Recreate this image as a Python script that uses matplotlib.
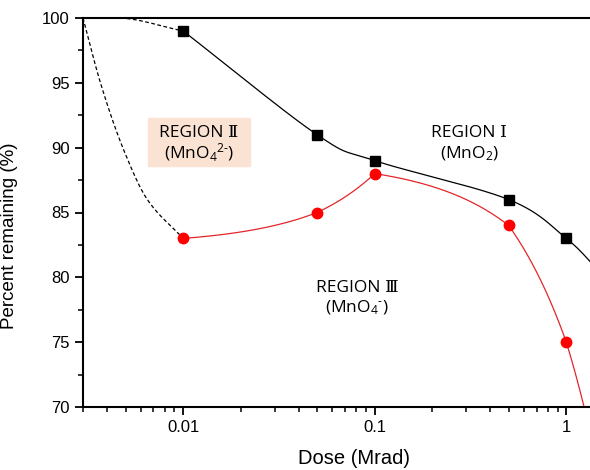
import numpy as np
import matplotlib.pyplot as plt
from matplotlib.ticker import FixedLocator, NullFormatter, MultipleLocator

# measured points
dose = [0.01, 0.05, 0.1, 0.5, 1.0]
region1 = [99, 91, 89, 86, 83]      # MnO2 boundary (black squares)
region3 = [83, 85, 88, 84, 75]      # MnO4- boundary (red circles)

# where the curves run off the frame
black_tail = (1.5, 80.4)
red_tail = (1.5, 64.5)

# dashed guides from the origin (0.003, 100)
guide_upper_x = [0.003, 0.0045, 0.01]
guide_upper_y = [100, 100, 99]
guide_lower_x = [0.003, 0.0037, 0.0049, 0.0065, 0.01]
guide_lower_y = [100, 95, 89.8, 86, 83]


def catmull(xs, ys, n=60):
    """Catmull-Rom through the points, in log-x space"""
    lx = np.log10(xs)
    ys = np.asarray(ys, float)
    px = np.concatenate([[2 * lx[0] - lx[1]], lx, [2 * lx[-1] - lx[-2]]])
    py = np.concatenate([[2 * ys[0] - ys[1]], ys, [2 * ys[-1] - ys[-2]]])
    outx, outy = [], []
    t = np.linspace(0, 1, n)
    for i in range(1, len(px) - 2):
        for p, out in ((px, outx), (py, outy)):
            p0, p1, p2, p3 = p[i - 1], p[i], p[i + 1], p[i + 2]
            out.append(0.5 * (2 * p1 + (-p0 + p2) * t
                              + (2 * p0 - 5 * p1 + 4 * p2 - p3) * t ** 2
                              + (-p0 + 3 * p1 - 3 * p2 + p3) * t ** 3))
    return 10 ** np.concatenate(outx), np.concatenate(outy)


def linear_dense(xs, ys, n=100):
    """Straight segments in linear dose, sampled densely for the log axis"""
    outx, outy = [], []
    for i in range(len(xs) - 1):
        t = np.linspace(0, 1, n)
        outx.append(xs[i] + t * (xs[i + 1] - xs[i]))
        outy.append(ys[i] + t * (ys[i + 1] - ys[i]))
    return np.concatenate(outx), np.concatenate(outy)


def pchip(xs, ys, n=80):
    """Monotone cubic through the points, in log-x space"""
    x = np.log10(xs)
    y = np.asarray(ys, float)
    h = np.diff(x)
    d = np.diff(y) / h
    m = np.zeros_like(y)
    m[0], m[-1] = d[0], d[-1]
    for k in range(1, len(y) - 1):
        if d[k - 1] * d[k] > 0:
            w1 = 2 * h[k] + h[k - 1]
            w2 = h[k] + 2 * h[k - 1]
            m[k] = (w1 + w2) / (w1 / d[k - 1] + w2 / d[k])
    outx, outy = [], []
    t = np.linspace(0, 1, n)
    for k in range(len(h)):
        h00 = 2 * t**3 - 3 * t**2 + 1
        h10 = t**3 - 2 * t**2 + t
        h01 = -2 * t**3 + 3 * t**2
        h11 = t**3 - t**2
        outx.append(x[k] + t * h[k])
        outy.append(h00 * y[k] + h10 * h[k] * m[k] + h01 * y[k + 1] + h11 * h[k] * m[k + 1])
    return 10 ** np.concatenate(outx), np.concatenate(outy)


plt.rcParams['font.family'] = ['Liberation Sans', 'DejaVu Sans']
plt.rcParams['mathtext.fontset'] = 'custom'
plt.rcParams['mathtext.rm'] = 'Open Sans'
plt.rcParams['mathtext.it'] = 'Open Sans'

fig = plt.figure(figsize=(5.9, 4.7), dpi=100)
ax = fig.add_axes([83 / 590, 63 / 470, 541 / 590, 389 / 470])

bx, by = catmull(dose + [black_tail[0]], region1 + [black_tail[1]])
rx, ry = linear_dense(dose + [red_tail[0]], region3 + [red_tail[1]])
ax.plot(bx, by, color='black', lw=0.9, zorder=2)
ax.plot(rx, ry, color='#e3262b', lw=0.9, zorder=2)

ux, uy = pchip(guide_upper_x, guide_upper_y)
lx, ly = pchip(guide_lower_x, guide_lower_y)
ax.plot(ux, uy, color='black', lw=0.9, ls=(0, (3, 2)), zorder=2)
ax.plot(lx, ly, color='black', lw=0.9, ls=(0, (3, 2)), zorder=2)

ax.plot(dose, region1, 's', color='black', ms=6.5, zorder=3, clip_on=False)
ax.plot(dose, region3, 'o', color='#ff0000', ms=7.5, zorder=3, clip_on=False)

ax.set_xscale('log')
ax.set_xlim(0.003, 2)
ax.set_ylim(70, 100)
ax.xaxis.set_major_locator(FixedLocator([0.01, 0.1, 1]))
ax.set_xticklabels(['0.01', '0.1', '1'])
ax.xaxis.set_minor_locator(FixedLocator(
    [k * 10.0 ** e for e in (-3, -2, -1, 0) for k in range(2, 10)]))
ax.xaxis.set_minor_formatter(NullFormatter())
ax.yaxis.set_major_locator(MultipleLocator(5))
ax.yaxis.set_minor_locator(MultipleLocator(2.5))

for s in ('left', 'bottom', 'top'):
    ax.spines[s].set_linewidth(1.5)
ax.spines['right'].set_visible(False)
ax.tick_params(which='major', direction='out', length=6, width=1.3, labelsize=12)
ax.tick_params(which='minor', direction='out', length=3.5, width=1.1)
ax.tick_params(top=False, right=False)

ax.set_xlabel('Dose (Mrad)', fontsize=14.5)
ax.xaxis.set_label_coords(0.5, -(458 - 407) / 389, transform=ax.transAxes)
ax.xaxis.label.set_va('center')
ax.set_ylabel('Percent remaining (%)', fontsize=13.5)
ax.yaxis.label.set_va('center')
ax.yaxis.label.set_ha('center')
ax.yaxis.set_label_coords(10 / 590, 1 - 236 / 470, transform=fig.transFigure)

lab = dict(family=['Open Sans', 'DejaVu Serif'],
           fontsize=12.5, ha='center', va='center', transform=fig.transFigure)
box = plt.Rectangle((148 / 590, 1 - 166 / 470), 102 / 590, 48 / 470,
                    transform=fig.transFigure, color='#fbe3d4', zorder=1)
fig.patches.append(box)
fig.text(199 / 590, 1 - 133 / 470, 'REGION Ⅱ', **lab)
fig.text(199 / 590, 1 - 153 / 470, r'(MnO$_4$$^{2\text{-}}$)', **lab)
fig.text(469 / 590, 1 - 133 / 470, 'REGION Ⅰ', **lab)
fig.text(469 / 590, 1 - 154 / 470, r'(MnO$_2$)', **lab)
fig.text(357 / 590, 1 - 288 / 470, 'REGION Ⅲ', **lab)
fig.text(357 / 590, 1 - 308 / 470, r'(MnO$_4$$^{\text{-}}$)', **lab)

fig.savefig('out.png', dpi=100)
